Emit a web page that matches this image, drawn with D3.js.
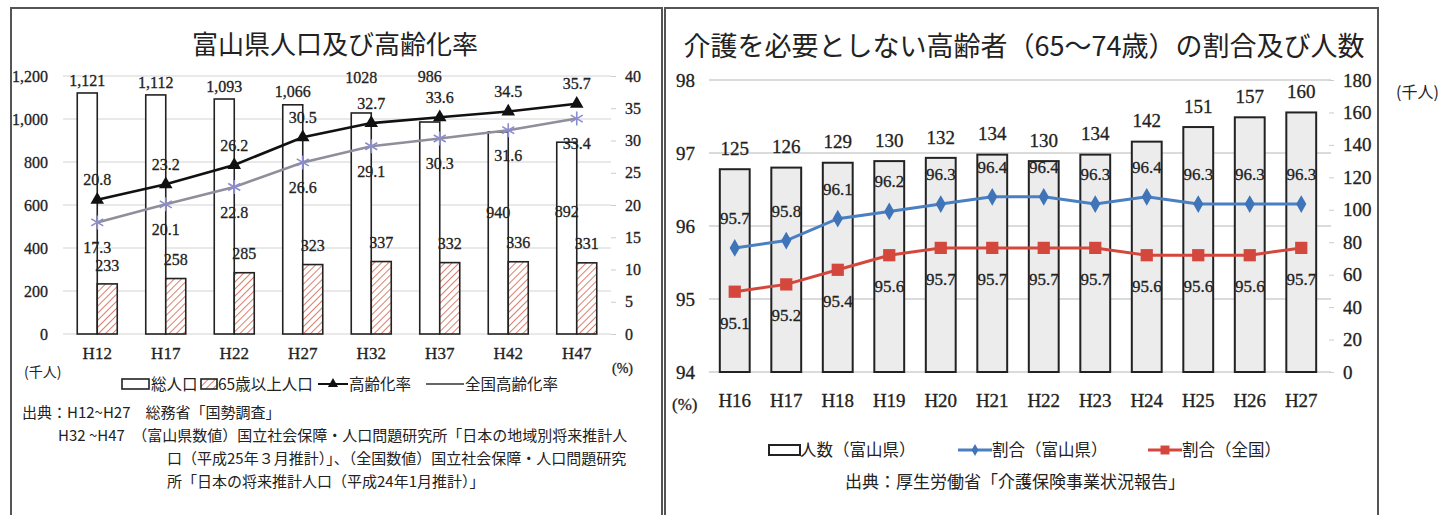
<!DOCTYPE html>
<html><head><meta charset="utf-8">
<script src="https://cdn.jsdelivr.net/npm/d3@7"></script>
<style>
body{margin:0;background:#fff;}
svg{display:block;}
.num{font-family:"Liberation Serif","DejaVu Serif",serif;fill:#222;stroke:#222;stroke-width:0.3px;}
.jp{font-family:"Noto Sans CJK JP","Noto Sans",sans-serif;fill:#222;}
</style></head><body>
<svg id="c" width="1445" height="515"></svg>
<script>
// ---------- Chart 1 data ----------
const years1 = ["H12","H17","H22","H27","H32","H37","H42","H47"];
const totalPop = [1121,1112,1093,1066,1028,986,940,892];
const totalPopLabels = ["1,121","1,112","1,093","1,066","1028","986","940","892"];
const elderlyPop = [233,258,285,323,337,332,336,331];
const agingRate = [20.8,23.2,26.2,30.5,32.7,33.6,34.5,35.7];
const nationalAgingRate = [17.3,20.1,22.8,26.6,29.1,30.3,31.6,33.4];
const leftTicks1 = [0,200,400,600,800,1000,1200];
const rightTicks1 = [0,5,10,15,20,25,30,35,40];
// label nudges (layout only, px)
const totalLabelNudge = [0,0,0,0,-23,-33,93,82];

// ---------- Chart 2 data ----------
const years2 = ["H16","H17","H18","H19","H20","H21","H22","H23","H24","H25","H26","H27"];
const count2 = [125,126,129,130,132,134,130,134,142,151,157,160];
const shareToyama = [95.7,95.8,96.1,96.2,96.3,96.4,96.4,96.3,96.4,96.3,96.3,96.3];
const shareNational = [95.1,95.2,95.4,95.6,95.7,95.7,95.7,95.7,95.6,95.6,95.6,95.7];
const leftTicks2 = [94,95,96,97,98];
const rightTicks2 = [0,20,40,60,80,100,120,140,160,180];

const svg = d3.select("#c");
const defs = svg.append("defs");
const pat = defs.append("pattern").attr("id","hatch").attr("patternUnits","userSpaceOnUse")
  .attr("width",5).attr("height",5).attr("patternTransform","rotate(45)");
pat.append("rect").attr("width",5).attr("height",5).attr("fill","#fff");
pat.append("line").attr("x1",0).attr("y1",0).attr("x2",0).attr("y2",5)
  .attr("stroke","#d9806e").attr("stroke-width",2);

// panel borders
svg.append("rect").attr("x",11).attr("y",8).attr("width",651).attr("height",530)
  .attr("fill","none").attr("stroke","#555").attr("stroke-width",2);
svg.append("rect").attr("x",665).attr("y",8).attr("width",713).attr("height",530)
  .attr("fill","none").attr("stroke","#555").attr("stroke-width",2);

// ================= Chart 1 =================
{
  const g = svg.append("g");
  const x = d3.scaleBand().domain(years1).range([63,611]);
  const yL = d3.scaleLinear().domain([0,1200]).range([334,76]);
  const yR = d3.scaleLinear().domain([0,40]).range([334,76]);
  const bw = 20;
  const cx = d => x(d) + x.bandwidth()/2;

  g.append("text").attr("class","jp").attr("x",335).attr("y",54)
    .attr("text-anchor","middle").attr("font-size",26).text("富山県人口及び高齢化率");

  // grid
  g.append("g").selectAll("line").data(leftTicks1).join("line")
    .attr("x1",63).attr("x2",611).attr("y1",d=>yL(d)).attr("y2",d=>yL(d))
    .attr("stroke","#d4d4d4").attr("stroke-width",1.2);

  const axL = g.append("g").attr("transform","translate(63,0)")
    .call(d3.axisLeft(yL).tickValues(leftTicks1).tickFormat(d3.format(",")).tickSize(0).tickPadding(15));
  axL.select(".domain").remove();
  axL.selectAll("text").attr("class","num").attr("font-size",16);

  const axR = g.append("g").attr("transform","translate(611,0)")
    .call(d3.axisRight(yR).tickValues(rightTicks1).tickSize(5).tickPadding(9));
  axR.select(".domain").remove();
  axR.selectAll("line").attr("stroke","#ccc");
  axR.selectAll("text").attr("class","num").attr("font-size",16);

  const axB = g.append("g").attr("transform","translate(0,334)")
    .call(d3.axisBottom(x).tickSize(0).tickPadding(13));
  axB.select(".domain").remove();
  axB.selectAll("text").attr("class","num").attr("font-size",17);

  // bars
  g.append("g").selectAll("rect").data(years1).join("rect")
    .attr("x",d=>cx(d)-bw).attr("width",bw)
    .attr("y",(d,i)=>yL(totalPop[i])).attr("height",(d,i)=>yL(0)-yL(totalPop[i]))
    .attr("fill","#fff").attr("stroke","#222").attr("stroke-width",1.6);
  g.append("g").selectAll("rect").data(years1).join("rect")
    .attr("x",d=>cx(d)).attr("width",bw)
    .attr("y",(d,i)=>yL(elderlyPop[i])).attr("height",(d,i)=>yL(0)-yL(elderlyPop[i]))
    .attr("fill","url(#hatch)").attr("stroke","#222").attr("stroke-width",1.6);

  // lines
  const lineA = d3.line().x((d,i)=>cx(years1[i])).y(d=>yR(d));
  g.append("path").attr("d",lineA(nationalAgingRate)).attr("fill","none")
    .attr("stroke","#8f8f9c").attr("stroke-width",2.6);
  g.append("path").attr("d",lineA(agingRate)).attr("fill","none")
    .attr("stroke","#111").attr("stroke-width",2.6);

  // markers
  g.append("g").selectAll("path").data(nationalAgingRate).join("path")
    .attr("transform",(d,i)=>`translate(${cx(years1[i])},${yR(d)})`)
    .attr("d","M0,-7V7M-6,-3.5L6,3.5M-6,3.5L6,-3.5")
    .attr("stroke","#8c8cd0").attr("stroke-width",1.6).attr("fill","none");
  g.append("g").selectAll("path").data(agingRate).join("path")
    .attr("transform",(d,i)=>`translate(${cx(years1[i])},${yR(d)})`)
    .attr("d",d3.symbol(d3.symbolTriangle,80)).attr("fill","#111");

  // labels
  g.append("g").selectAll("text").data(totalPopLabels).join("text").attr("class","num")
    .attr("x",(d,i)=>cx(years1[i])-bw/2).attr("y",(d,i)=>yL(totalPop[i])-13+totalLabelNudge[i])
    .attr("dy","0.35em").attr("text-anchor","middle").attr("font-size",16).text(d=>d);
  g.append("g").selectAll("text").data(elderlyPop).join("text").attr("class","num")
    .attr("x",(d,i)=>cx(years1[i])+bw/2).attr("y",d=>yL(d)-19)
    .attr("dy","0.35em").attr("text-anchor","middle").attr("font-size",16).text(d=>d);
  g.append("g").selectAll("text").data(agingRate).join("text").attr("class","num")
    .attr("x",(d,i)=>cx(years1[i])).attr("y",d=>yR(d)-20)
    .attr("dy","0.35em").attr("text-anchor","middle").attr("font-size",16).text(d=>d.toFixed(1));
  g.append("g").selectAll("text").data(nationalAgingRate).join("text").attr("class","num")
    .attr("x",(d,i)=>cx(years1[i])).attr("y",d=>yR(d)+25)
    .attr("dy","0.35em").attr("text-anchor","middle").attr("font-size",16).text(d=>d.toFixed(1));

  // unit labels
  g.append("text").attr("class","jp").attr("x",24).attr("y",377).attr("font-size",14).text("(千人)");
  g.append("text").attr("class","num").attr("x",612).attr("y",373).attr("font-size",14).text("(%)");

  // legend
  const ly = 384;
  const lg = g.append("g");
  lg.append("rect").attr("x",122).attr("y",ly-5).attr("width",27).attr("height",10)
    .attr("fill","#fff").attr("stroke","#222").attr("stroke-width",1.6);
  lg.append("text").attr("class","jp").attr("x",151).attr("y",ly).attr("dy","0.36em").attr("font-size",15.5).text("総人口");
  lg.append("rect").attr("x",201).attr("y",ly-5).attr("width",16).attr("height",10)
    .attr("fill","url(#hatch)").attr("stroke","#222").attr("stroke-width",1.6);
  lg.append("text").attr("class","jp").attr("x",218).attr("y",ly).attr("dy","0.36em").attr("font-size",15.5).text("65歳以上人口");
  lg.append("line").attr("x1",318).attr("x2",348).attr("y1",ly).attr("y2",ly).attr("stroke","#111").attr("stroke-width",2);
  lg.append("path").attr("transform",`translate(333,${ly})`).attr("d",d3.symbol(d3.symbolTriangle,45)).attr("fill","#111");
  lg.append("text").attr("class","jp").attr("x",349).attr("y",ly).attr("dy","0.36em").attr("font-size",15.5).text("高齢化率");
  lg.append("line").attr("x1",426).attr("x2",464).attr("y1",ly).attr("y2",ly).attr("stroke","#333").attr("stroke-width",1.6);
  lg.append("text").attr("class","jp").attr("x",465).attr("y",ly).attr("dy","0.36em").attr("font-size",15.5).text("全国高齢化率");

  // source
  const src = g.append("g").attr("class","jp").attr("font-size",15);
  src.append("text").attr("x",22).attr("y",418).text("出典：H12~H27　総務省「国勢調査」");
  src.append("text").attr("x",58).attr("y",441).text("H32 ~H47　（富山県数値）国立社会保障・人口問題研究所「日本の地域別将来推計人");
  src.append("text").attr("x",167).attr("y",464).text("口（平成25年３月推計）」、（全国数値）国立社会保障・人口問題研究");
  src.append("text").attr("x",167).attr("y",487).text("所「日本の将来推計人口（平成24年1月推計）」");
}

// ================= Chart 2 =================
{
  const g = svg.append("g");
  const x = d3.scaleBand().domain(years2).range([709,1327]);
  const yL = d3.scaleLinear().domain([94,98]).range([372,80]);
  const yR = d3.scaleLinear().domain([0,180]).range([372,80]);
  const bw = x.bandwidth()*0.58;
  const cx = d => x(d) + x.bandwidth()/2;

  g.append("text").attr("class","jp").attr("x",1024).attr("y",56)
    .attr("text-anchor","middle").attr("font-size",27).text("介護を必要としない高齢者（65〜74歳）の割合及び人数");

  g.append("g").selectAll("line").data(leftTicks2).join("line")
    .attr("x1",709).attr("x2",1331).attr("y1",d=>yL(d)).attr("y2",d=>yL(d))
    .attr("stroke","#cfcfcf").attr("stroke-width",1.3);

  const axL = g.append("g").attr("transform","translate(709,0)")
    .call(d3.axisLeft(yL).tickValues(leftTicks2).tickFormat(d3.format("d")).tickSize(0).tickPadding(14));
  axL.select(".domain").remove();
  axL.selectAll("text").attr("class","num").attr("font-size",19);

  const axR = g.append("g").attr("transform","translate(1329,0)")
    .call(d3.axisRight(yR).tickValues(rightTicks2).tickSize(5).tickPadding(9));
  axR.select(".domain").remove();
  axR.selectAll("line").attr("stroke","#ccc");
  axR.selectAll("text").attr("class","num").attr("font-size",19);

  const axB = g.append("g").attr("transform","translate(0,372)")
    .call(d3.axisBottom(x).tickSize(0).tickPadding(22));
  axB.select(".domain").remove();
  axB.selectAll("text").attr("class","num").attr("font-size",19);

  g.append("g").selectAll("rect").data(count2).join("rect")
    .attr("x",(d,i)=>cx(years2[i])-bw/2).attr("width",bw)
    .attr("y",d=>yR(d)).attr("height",d=>yR(0)-yR(d))
    .attr("fill","#ececec").attr("stroke","#222").attr("stroke-width",2);

  const line = d3.line().x((d,i)=>cx(years2[i])).y(d=>yL(d));
  g.append("path").attr("d",line(shareNational)).attr("fill","none").attr("stroke","#d4473d").attr("stroke-width",3);
  g.append("path").attr("d",line(shareToyama)).attr("fill","none").attr("stroke","#4a7fc1").attr("stroke-width",3);

  g.append("g").selectAll("path").data(shareNational).join("path")
    .attr("transform",(d,i)=>`translate(${cx(years2[i])},${yL(d)})`)
    .attr("d",d3.symbol(d3.symbolSquare,150)).attr("fill","#d4473d");
  g.append("g").selectAll("path").data(shareToyama).join("path")
    .attr("transform",(d,i)=>`translate(${cx(years2[i])},${yL(d)})`)
    .attr("d",d3.symbol(d3.symbolDiamond,90)).attr("fill","#3f74b8");

  g.append("g").selectAll("text").data(count2).join("text").attr("class","num")
    .attr("x",(d,i)=>cx(years2[i])).attr("y",d=>yR(d)-21)
    .attr("dy","0.35em").attr("text-anchor","middle").attr("font-size",19).text(d=>d);
  g.append("g").selectAll("text").data(shareToyama).join("text").attr("class","num")
    .attr("x",(d,i)=>cx(years2[i])).attr("y",d=>yL(d)-30)
    .attr("dy","0.35em").attr("text-anchor","middle").attr("font-size",17).text(d=>d.toFixed(1));
  g.append("g").selectAll("text").data(shareNational).join("text").attr("class","num")
    .attr("x",(d,i)=>cx(years2[i])).attr("y",d=>yL(d)+31)
    .attr("dy","0.35em").attr("text-anchor","middle").attr("font-size",17).text(d=>d.toFixed(1));

  g.append("text").attr("class","num").attr("x",672).attr("y",410).attr("font-size",17).text("(%)");
  g.append("text").attr("class","jp").attr("x",1396).attr("y",98).attr("font-size",16).text("(千人)");

  const ly = 450;
  const lg = g.append("g");
  lg.append("rect").attr("x",769).attr("y",ly-5).attr("width",31).attr("height",10)
    .attr("fill","#fff").attr("stroke","#222").attr("stroke-width",2);
  lg.append("text").attr("class","jp").attr("x",800).attr("y",ly).attr("dy","0.36em").attr("font-size",16.5).text("人数（富山県）");
  lg.append("line").attr("x1",958).attr("x2",992).attr("y1",ly).attr("y2",ly).attr("stroke","#4a7fc1").attr("stroke-width",3);
  lg.append("path").attr("transform",`translate(975,${ly})`).attr("d",d3.symbol(d3.symbolDiamond,40)).attr("fill","#3f74b8");
  lg.append("text").attr("class","jp").attr("x",992).attr("y",ly).attr("dy","0.36em").attr("font-size",16.5).text("割合（富山県）");
  lg.append("line").attr("x1",1148).attr("x2",1182).attr("y1",ly).attr("y2",ly).attr("stroke","#d4473d").attr("stroke-width",3);
  lg.append("path").attr("transform",`translate(1165,${ly})`).attr("d",d3.symbol(d3.symbolSquare,80)).attr("fill","#d4473d");
  lg.append("text").attr("class","jp").attr("x",1182).attr("y",ly).attr("dy","0.36em").attr("font-size",16.5).text("割合（全国）");

  g.append("text").attr("class","jp").attr("x",1015).attr("y",482).attr("dy","0.36em")
    .attr("text-anchor","middle").attr("font-size",17).text("出典：厚生労働省「介護保険事業状況報告」");
}
</script>
</body></html>
